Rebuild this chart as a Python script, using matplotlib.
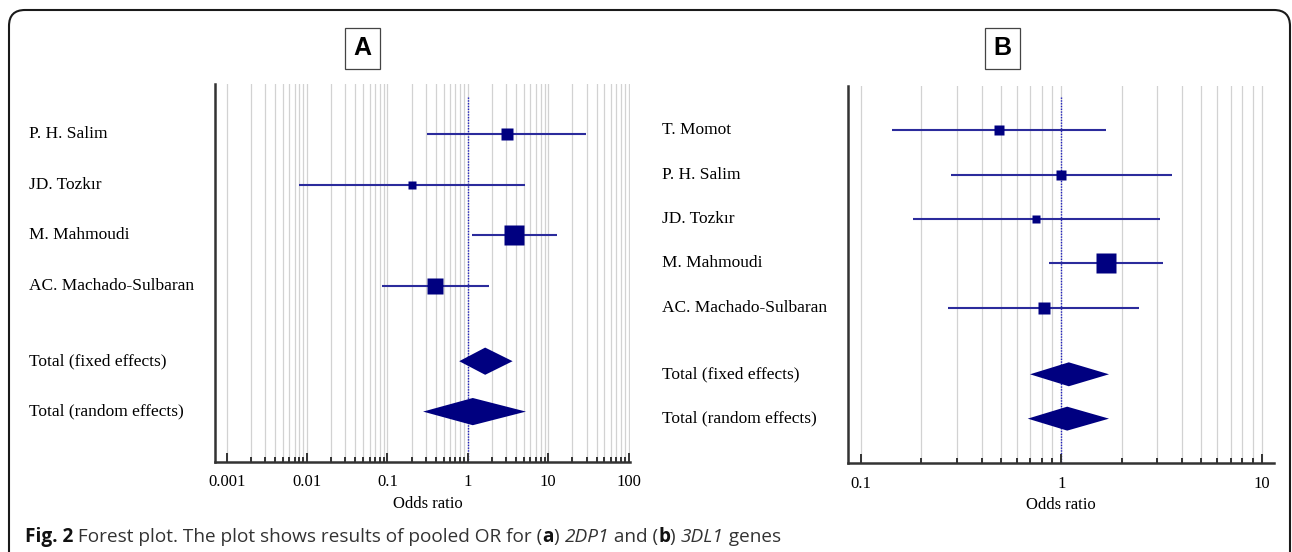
import numpy as np
import matplotlib
matplotlib.use('Agg')
import matplotlib.pyplot as plt
from matplotlib import transforms
from matplotlib.patches import Polygon, FancyBboxPatch
from matplotlib.ticker import NullFormatter


# panel A : 2DP1
studies_a = ['P. H. Salim', 'JD. Tozkır', 'M. Mahmoudi', 'AC. Machado-Sulbaran']
or_a = [3.05, 0.20, 3.77, 0.395]
lo_a = [0.311, 0.0079, 1.13, 0.0864]
hi_a = [29.7, 5.1, 12.9, 1.85]
weight_a = [15.2, 8.5, 45.1, 31.1]
pooled_a = [1.64, 1.15]          # fixed, random
pooled_lo_a = [0.78, 0.277]
pooled_hi_a = [3.60, 5.27]
ticks_a = [0.001, 0.01, 0.1, 1, 10, 100]
tick_labels_a = ['0.001', '0.01', '0.1', '1', '10', '100']

# panel B : 3DL1
studies_b = ['T. Momot', 'P. H. Salim', 'JD. Tozkır', 'M. Mahmoudi', 'AC. Machado-Sulbaran']
or_b = [0.489, 1.0, 0.748, 1.67, 0.82]
lo_b = [0.143, 0.281, 0.182, 0.868, 0.272]
hi_b = [1.67, 3.57, 3.11, 3.22, 2.44]
weight_b = [11.6, 11.6, 8.2, 51.5, 17.0]
pooled_b = [1.09, 1.07]
pooled_lo_b = [0.698, 0.68]
pooled_hi_b = [1.73, 1.73]
ticks_b = [0.1, 1, 10]
tick_labels_b = ['0.1', '1', '10']

pooled_names = ['Total (fixed effects)', 'Total (random effects)']

W, H, DPI = 1292, 552, 100
SERIF = 'Liberation Serif'
NAVY = '#000080'
CI_COL = '#2b2b9c'


def forest(fig, ax, names, est, lo, hi, w, p_est, p_lo, p_hi, ticks, labels, label_x, xlim):
  n = len(names)
  ax.set_xscale('log')
  ax.set_xlim(*xlim)
  ax.set_ylim(n + 2.5, -1)

  k0 = int(round(np.log10(ticks[0])))
  k1 = int(round(np.log10(ticks[-1])))
  minor = [m * 10.0**k for k in range(k0, k1) for m in range(2, 10)]
  ax.set_xticks(ticks, labels)
  ax.set_xticks(minor, minor=True)
  ax.xaxis.set_minor_formatter(NullFormatter())
  for v in ticks + minor:
    ax.axvline(v, color='#d2d2d2', lw=0.9, zorder=0)

  ax.tick_params(axis='x', which='major', direction='in', length=6.5, width=1.4,
                 color='#333333', pad=9, labelsize=12)
  ax.tick_params(axis='x', which='minor', direction='in', length=3.6, width=1.4,
                 color='#333333')
  ax.tick_params(axis='y', left=False, labelleft=False)
  for lab in ax.get_xticklabels():
    lab.set_fontfamily(SERIF)
  for s in ['top', 'right']:
    ax.spines[s].set_visible(False)
  for s in ['left', 'bottom']:
    ax.spines[s].set_color('#333333')
    ax.spines[s].set_linewidth(1.8)

  # line of no effect
  ax.plot([1, 1], [-0.75, n + 2.5], color='#2020c0', lw=1.0, linestyle=(0, (1, 1)), zorder=1)

  wmax = max(w)
  for i in range(n):
    ax.plot([lo[i], hi[i]], [i, i], color=CI_COL, lw=1.5, solid_capstyle='butt', zorder=2)
    side = 20 * np.sqrt(w[i] / wmax) * 72 / DPI
    ax.plot(est[i], i, 's', ms=side, color=NAVY, mec='none', zorder=3)

  ys = [n + 0.5, n + 1.5]
  for j in range(2):
    y = ys[j]
    ax.add_patch(Polygon([(p_lo[j], y), (p_est[j], y - 0.27), (p_hi[j], y), (p_est[j], y + 0.27)],
                         closed=True, color=NAVY, lw=0, zorder=3))

  trans = transforms.blended_transform_factory(fig.transFigure, ax.transData)
  for i, name in enumerate(names + pooled_names):
    y = i if i < n else ys[i - n]
    ax.text(label_x, y, name, transform=trans, ha='left', va='center',
            fontsize=12.5, family=SERIF, color='black', clip_on=False)

  ax.set_xlabel('Odds ratio', fontsize=12, family=SERIF, labelpad=6)


def main():
  fig = plt.figure(figsize=(W / DPI, H / DPI), dpi=DPI)

  # rounded frame
  frame = FancyBboxPatch((9, -30), 1281, H - 10 + 30, boxstyle='round,pad=0,rounding_size=16',
                         transform=None, fill=False, ec='#1a1a1a', lw=1.5)
  fig.patches.append(frame)

  ax_a = fig.add_axes([214.7 / W, 1 - 462 / H, (629.5 - 214.7) / W, (462 - 84) / H])
  ax_b = fig.add_axes([848.3 / W, 1 - 463 / H, (1274.3 - 848.3) / W, (463 - 86) / H])

  forest(fig, ax_a, studies_a, or_a, lo_a, hi_a, weight_a, pooled_a, pooled_lo_a, pooled_hi_a,
         ticks_a, tick_labels_a, 29 / W, (10**-3.149, 10**2.01))
  forest(fig, ax_b, studies_b, or_b, lo_b, hi_b, weight_b, pooled_b, pooled_lo_b, pooled_hi_b,
         ticks_b, tick_labels_b, 662 / W, (10**-1.063, 10**1.063))
  ax_a.xaxis.set_label_coords(0.513, -0.09)
  ax_b.xaxis.set_label_coords(0.5, -0.09)

  # panel letters
  for letter, xc in [('A', 362.7), ('B', 1002.7)]:
    fig.text(xc / W, 1 - 48.3 / H, letter, ha='center', va='center', fontsize=18,
             fontweight='bold', family='Liberation Sans',
             bbox=dict(boxstyle='square,pad=0.33', fc='white', ec='#444444', lw=0.9))

  # caption with mixed styles
  runs = [('Fig. 2', 'bold', 'normal', '#111111'),
          (' Forest plot. The plot shows results of pooled OR for (', 'normal', 'normal', '#333333'),
          ('a', 'bold', 'normal', '#111111'),
          (') ', 'normal', 'normal', '#333333'),
          ('2DP1', 'normal', 'italic', '#333333'),
          (' and (', 'normal', 'normal', '#333333'),
          ('b', 'bold', 'normal', '#111111'),
          (') ', 'normal', 'normal', '#333333'),
          ('3DL1', 'normal', 'italic', '#333333'),
          (' genes', 'normal', 'normal', '#333333')]
  renderer = fig.canvas.get_renderer()
  x = 25.0
  ybase = 10.0
  for txt, weight, style, col in runs:
    kw = dict(fontsize=13.7, family='Open Sans', fontweight=weight, fontstyle=style)
    fig.text(x / W, ybase / H, txt, va='baseline', ha='left', color=col, **kw)
    m1 = fig.text(0, 0, '|' + txt + '|', **kw)
    m2 = fig.text(0, 0, '||', **kw)
    wpx = m1.get_window_extent(renderer).width - m2.get_window_extent(renderer).width
    m1.remove()
    m2.remove()
    x += wpx

  plt.savefig('out.png', dpi=DPI)


if __name__ == "__main__":
  main()
